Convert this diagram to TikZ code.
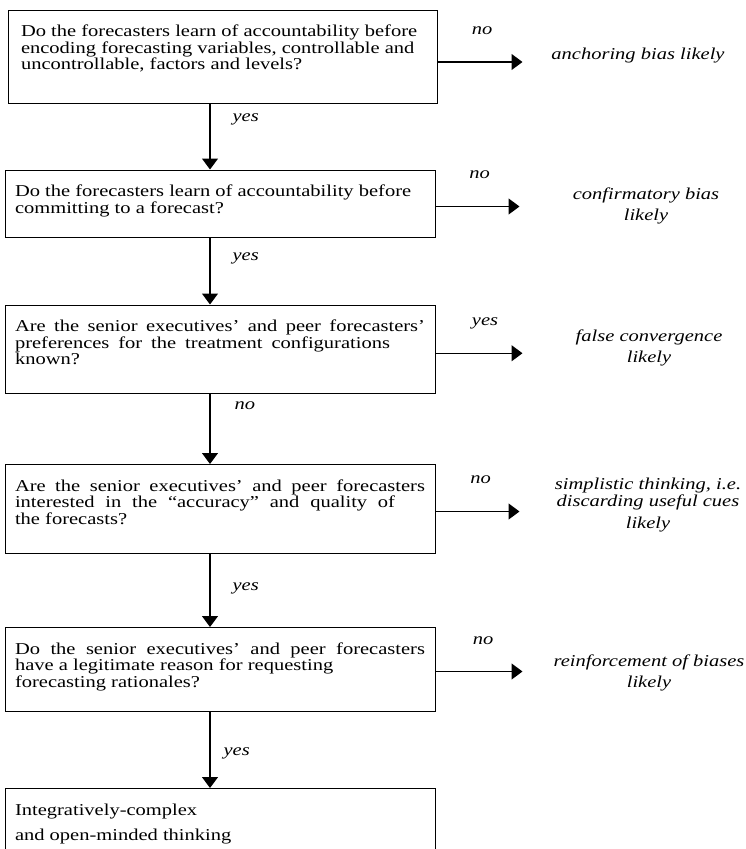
\documentclass[tikz,border=0pt]{standalone}
\usepackage{fontspec}
\setmainfont{Liberation Serif}[FakeStretch=1.235]
\usetikzlibrary{positioning,arrows.meta}
\newcommand\boxfont{\fontsize{16.6}{16.5}\selectfont}
\newcommand\outfont{\fontsize{16.6}{20.5}\selectfont}
% fixed gap above the first baseline and below the last one
\newcommand\topgap{\rule{0pt}{26.5pt}}
\newcommand\botgap[1]{\rule[-#1]{0pt}{#1}}
% a line spread out to a given width
\newcommand\spreadline[2]{\makebox[#1][s]{#2}}
\tikzset{
  qbox/.style={
    draw,
    line width=1pt,
    text width=410pt,
    inner xsep=10pt,
    inner ysep=0pt,
    align=justify,
    font=\boxfont
  },
  outcome/.style={
    align=center,
    inner sep=0pt,
    font=\outfont\itshape
  },
  lbl/.style={inner sep=0pt,font=\boxfont\itshape},
  arrow/.style={-{Triangle[length=11pt,width=16pt]},line width=1.2pt}
}
\begin{document}
\begin{tikzpicture}[x=1pt,y=-1pt]
    \useasboundingbox (0,0) rectangle (746,849);
    % question boxes
    \node[qbox,text width=403pt,inner xsep=13pt] (acc) at (222.5,56.5)
      {\topgap Do the forecasters learn of accountability before\\ encoding forecasting variables, controllable and\\ uncontrollable, factors and levels?\botgap{33.5pt}};
    \node[qbox,below=66pt of acc,xshift=-2.5pt] (commit)
      {\topgap Do the forecasters learn of accountability before\\ committing to a forecast?\botgap{24pt}};
    \node[qbox,below=67pt of commit] (pref)
      {\topgap Are the senior executives' and peer forecasters'\linebreak \spreadline{375pt}{preferences for the treatment configurations}\\ known?\botgap{29pt}};
    \node[qbox,below=70pt of pref] (interest)
      {\topgap Are the senior executives' and peer forecasters\linebreak \spreadline{380pt}{interested in the ``accuracy'' and quality of}\\ the forecasts?\botgap{29.5pt}};
    \node[qbox,below=73pt of interest] (reason)
      {\topgap Do the senior executives' and peer forecasters\linebreak have a legitimate reason for requesting\\ forecasting rationales?\botgap{24.5pt}};
    \node[qbox,below=76pt of reason] (open)
      {\topgap Integratively-complex\\[8.5pt] and open-minded thinking\botgap{38pt}};
    % outcomes
    \node[outcome] (anchor) at (638,56) {anchoring bias likely};
    \node[outcome] (confirm) at (646,206) {confirmatory bias\\ likely};
    \node[outcome] (falseconv) at (649,348) {false convergence\\ likely};
    \node[outcome] (simple) at (648,505) {simplistic thinking, i.e.\\[-4pt] discarding useful cues\\[1.5pt] likely};
    \node[outcome] (reinf) at (649,673) {reinforcement of biases\\ likely};
    \coordinate (t1) at ([shift={(85pt,-5.5pt)}]acc.east);
    \coordinate (t2) at ([shift={(84pt,-3pt)}]commit.east);
    \coordinate (t3) at ([shift={(87pt,-4pt)}]pref.east);
    \coordinate (t4) at ([shift={(84pt,-2.5pt)}]interest.east);
    \coordinate (t5) at ([shift={(87pt,-2pt)}]reason.east);
    % side arrows
    \draw[arrow] (acc.east |- t1) -- node[lbl,anchor=base,yshift=28pt,xshift=2pt] {no} (t1);
    \draw[arrow] (commit.east |- t2) -- node[lbl,anchor=base,yshift=28pt,xshift=2pt] {no} (t2);
    \draw[arrow] (pref.east |- t3) -- node[lbl,anchor=base,yshift=28pt,xshift=6pt] {yes} (t3);
    \draw[arrow] (interest.east |- t4) -- node[lbl,anchor=base,yshift=28pt,xshift=3pt] {no} (t4);
    \draw[arrow] (reason.east |- t5) -- node[lbl,anchor=base,yshift=27pt,xshift=4pt] {no} (t5);
    % main arrows
    \draw[arrow] ([xshift=-10pt]commit.north |- acc.south) -- node[lbl,pos=.24,right=22pt] {yes} ([xshift=-10pt]commit.north);
    \draw[arrow] ([xshift=-10pt]commit.south) -- node[lbl,pos=.31,right=22pt] {yes} ([xshift=-10pt]pref.north);
    \draw[arrow] ([xshift=-10pt]pref.south) -- node[lbl,pos=.17,right=24pt] {no} ([xshift=-10pt]interest.north);
    \draw[arrow] ([xshift=-10pt]interest.south) -- node[lbl,pos=.47,right=22pt] {yes} ([xshift=-10pt]reason.north);
    \draw[arrow] ([xshift=-10pt]reason.south) -- node[lbl,pos=.55,right=13pt] {yes} ([xshift=-10pt]open.north);
\end{tikzpicture}
\end{document}
